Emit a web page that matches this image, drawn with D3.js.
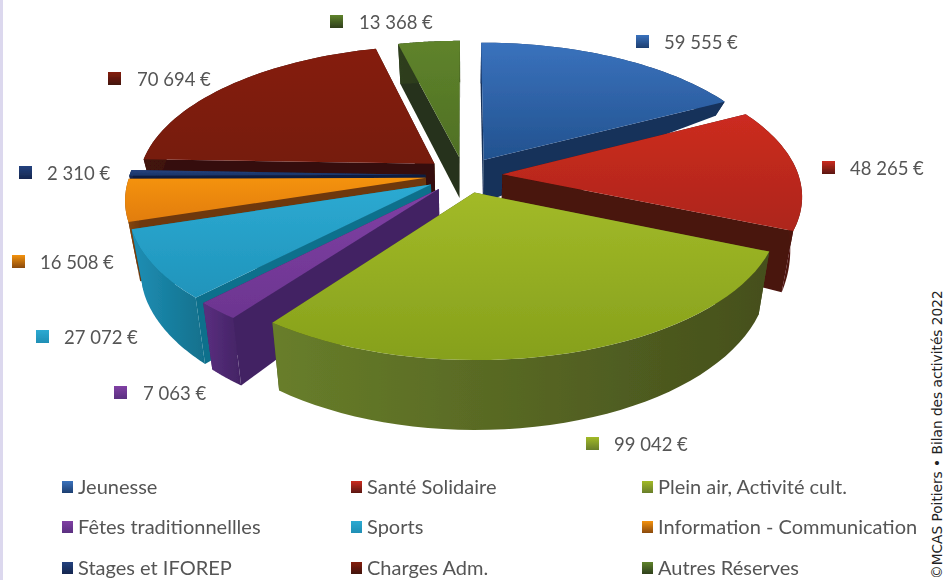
<!DOCTYPE html>
<html>
<head>
<meta charset="utf-8">
<script src="https://cdn.jsdelivr.net/npm/d3@7"></script>
<style>
  html, body { margin: 0; padding: 0; background: #fff; overflow: hidden; }
</style>
</head>
<body>
<div id="chart"></div>
<script>
const categories = ['Jeunesse', 'Santé Solidaire', 'Plein air, Activité cult.', 'Fêtes traditionnellles', 'Sports', 'Information - Communication', 'Stages et IFOREP', 'Charges Adm.', 'Autres Réserves'];
const values = [59555, 48265, 99042, 7063, 27072, 16508, 2310, 70694, 13368];

const topLight = ['#3a72bd', '#cc2c20', '#a2ba28', '#8040a4', '#2daad2', '#f4920f', '#24427f', '#851e10', '#5f832b'];
const topDark = ['#22528f', '#ad251a', '#86a01c', '#6c3590', '#1f94bb', '#e27d0e', '#1a3468', '#761a0e', '#4f7024'];
const wallLight = ['#1d3e70', '#5a1710', '#687e2a', '#5a2f80', '#1f8fb5', '#8a4a0c', '#15264f', '#421209', '#2f3f1d'];
const wallDark = ['#16305a', '#4a120c', '#454f1c', '#432364', '#11708c', '#6e380a', '#111e40', '#351008', '#26331a'];

// label anchors: [square centre x, square centre y, text x]
const labelPos = [[642, 41, 664], [828, 167, 850], [592, 443, 614], [120, 392, 143], [42, 336, 64], [18, 261, 40], [25, 172, 47], [114, 78, 137], [336, 21, 359]];
const legendX = [68, 357, 648];
const legendY = [487, 527, 568];

const width = 944, height = 580;
const cx = 464, cy = 175;
const A = 296, B = 138, d = 7;   // plane size and camera distance
const explode = 0.13;

const fmt = d3.formatLocale({ decimal: ',', thousands: ' ', grouping: [3], currency: ['', ' €'] }).format(',');

const svg = d3.select('#chart').append('svg')
  .attr('width', width)
  .attr('height', height)
  .style('font-family', 'Lato, sans-serif');

const defs = svg.append('defs');
defs.append('filter').attr('id', 'soft')
  .append('feGaussianBlur').attr('stdDeviation', 0.6);

function grad(id, c1, c2, horizontal) {
  const g = defs.append('linearGradient').attr('id', id)
    .attr('x1', 0).attr('y1', 0)
    .attr('x2', horizontal ? 1 : 0).attr('y2', horizontal ? 0 : 1);
  g.append('stop').attr('offset', 0).attr('stop-color', c1);
  g.append('stop').attr('offset', 1).attr('stop-color', c2);
}
categories.forEach((c, i) => {
  grad('top' + i, topLight[i], topDark[i], false);
  grad('wall' + i, wallLight[i], wallDark[i], true);
  grad('sw' + i, topLight[i], wallLight[i], false);
});

// faint lavender edge of the scan
svg.append('rect').attr('width', 3).attr('height', height).attr('fill', '#dcd8ee');

const pie = d3.pie().sort(null).startAngle(0).endAngle(2 * Math.PI);
const arcs = pie(values).map((s, i) => ({ ...s, i, mid: (s.startAngle + s.endAngle) / 2 }));

const depth = d3.scaleLinear()
  .domain([-1.2, -0.575, -0.3, -0.11, 0.4, 1.13])
  .range([45, 14, 18, 43, 62, 70]);

// plane point -> screen, r in 0..1 from the slice apex
function project(s, r, a, bottom) {
  const X = explode * Math.sin(s.mid) + r * Math.sin(a);
  const Y = -explode * Math.cos(s.mid) - r * Math.cos(a);
  const p = d / (d - Y);
  const sx = A * X * p;
  const sy = B * Y * p;
  return bottom ? [cx + sx * 0.965, cy + sy + depth(Y)] : [cx + sx, cy + sy];
}

const line = d3.line().curve(d3.curveLinear);
const angles = s => d3.range(0, 41).map(k => s.startAngle + (s.endAngle - s.startAngle) * k / 40);

const pieG = svg.append('g').attr('filter', 'url(#soft)');
// paint from the back of the pie to the front
const order = arcs.slice().sort((a, b) => Math.cos(b.mid) - Math.cos(a.mid));

order.forEach(s => {
  const g = pieG.append('g');
  const as = angles(s);
  [s.startAngle, s.endAngle].forEach(a => {
    g.append('path')
      .attr('d', line([project(s, 0, a), project(s, 1, a), project(s, 1, a, true), project(s, 0, a, true)]) + 'Z')
      .attr('fill', wallDark[s.i]);
  });
  g.append('path')
    .attr('d', line(as.map(a => project(s, 1, a)).concat(as.slice().reverse().map(a => project(s, 1, a, true)))) + 'Z')
    .attr('fill', `url(#wall${s.i})`);
  g.append('path')
    .attr('d', line([project(s, 0, s.startAngle)].concat(as.map(a => project(s, 1, a)))) + 'Z')
    .attr('fill', `url(#top${s.i})`);
});

const labels = svg.append('g').attr('filter', 'url(#soft)');

// value labels round the pie
arcs.forEach(s => {
  const [qx, qy, tx] = labelPos[s.i];
  labels.append('rect')
    .attr('x', qx - 6).attr('y', qy - 6)
    .attr('width', 13).attr('height', 13)
    .attr('fill', `url(#sw${s.i})`);
  labels.append('text')
    .attr('x', tx).attr('y', qy + 7.5)
    .attr('font-size', 18.5)
    .attr('fill', '#555')
    .text(fmt(s.value) + ' €');
});

// legend, three rows of three
categories.forEach((c, i) => {
  const x = legendX[i % 3], y = legendY[Math.floor(i / 3)];
  labels.append('rect')
    .attr('x', x - 6).attr('y', y - 6)
    .attr('width', 11).attr('height', 12)
    .attr('fill', `url(#sw${i})`);
  labels.append('text')
    .attr('x', x + 10).attr('y', y + 7)
    .attr('font-size', 20)
    .attr('fill', '#555')
    .text(c);
});

svg.append('text')
  .attr('transform', 'translate(942,579) rotate(-90)')
  .attr('font-family', 'DejaVu Sans, sans-serif')
  .attr('font-size', 13.7)
  .attr('fill', '#222')
  .text('©MCAS Poitiers • Bilan des activités 2022');
</script>
</body>
</html>
